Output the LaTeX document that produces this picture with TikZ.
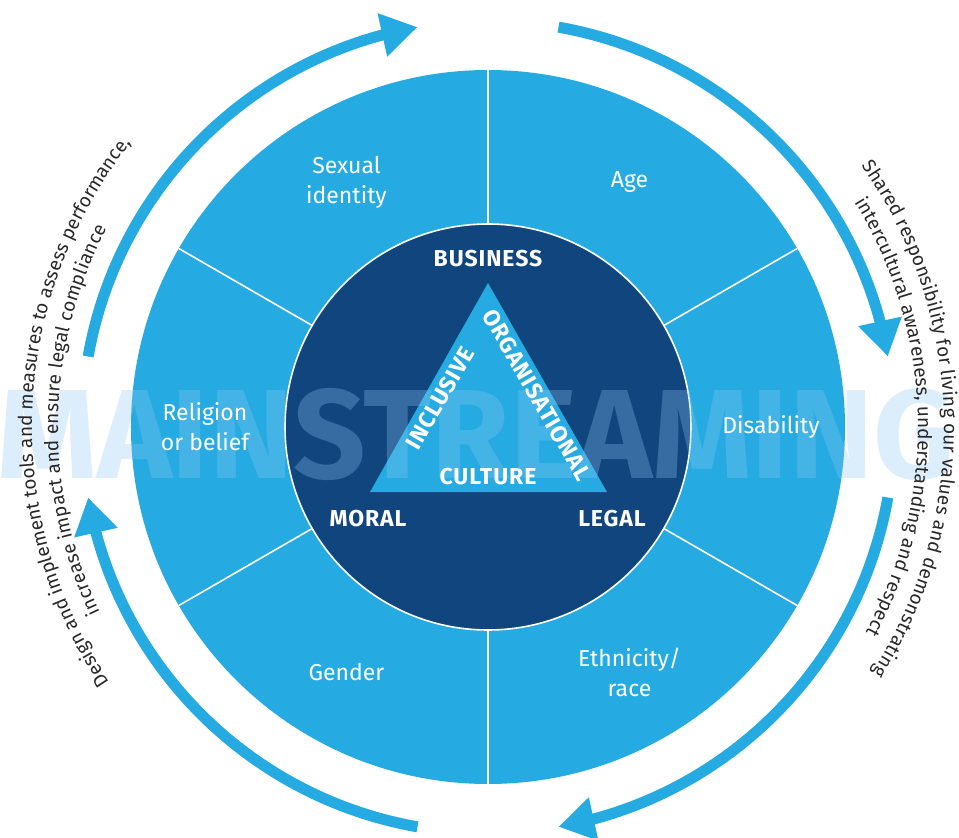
\documentclass[tikz,border=0pt]{standalone}
\usepackage{fontspec}
\setmainfont{Fira Sans}
\newfontfamily\lightfont{Fira Sans}
\usetikzlibrary{arrows.meta,bending,decorations.text}
\definecolor{ringblue}{RGB}{38,170,226}
\definecolor{navy}{RGB}{17,69,126}
\definecolor{markblue}{RGB}{140,200,242}
\definecolor{inkgray}{RGB}{40,40,40}
\newcommand{\arcfont}{\lightfont\fontsize{19}{22}\selectfont\color{inkgray}}
\tikzset{
	divider/.style={white, line width=1.6pt},
	segtext/.style={text=white, align=center, font=\lightfont\fontsize{23}{30}\selectfont},
	corner/.style={text=white, inner sep=0pt, font=\bfseries\fontsize{23}{23}\selectfont\addfontfeature{LetterSpace=4}},
	flow/.style={ringblue, line width=11pt, -{Triangle[length=36pt,width=42pt]}},
	arcline/.style={decorate, decoration={text along path, text align=fit to path, text={|\arcfont|#1}}}
}
\begin{document}
\begin{tikzpicture}[x=1pt, y=1pt]
	\useasboundingbox (-488,-411) rectangle (471,427);
	\fill[ringblue] (0,0) circle[radius=357];
	\foreach \a in {30,90,...,330}{
		\draw[divider] (0,0) -- (\a:357);
	}
	\filldraw[fill=navy, draw=white, line width=1.6pt] (0,0) circle[radius=203];
	\coordinate (apex) at (0,144);
	\coordinate (lcorner) at (-118,-65);
	\coordinate (rcorner) at (119,-65);
	\fill[ringblue] (apex) -- (lcorner) -- (rcorner) -- cycle;
	\node[anchor=base west, inner sep=0pt, text=markblue, text opacity=0.3, font=\bfseries\fontsize{127}{127}\selectfont] (mark) at (-491,-51) {MAINSTREAMING};
	\foreach \ang/\txt [count=\k] in {60/Age, 120/{Sexual\\identity}, 180/{Religion\\or belief}, 240/Gender, 300/{Ethnicity/\\race}, 0/Disability}{
		\node[segtext] (seg\k) at (\ang:283) {\txt};
	}
	\node[corner] (business) at (0,168) {BUSINESS};
	\node[corner] (moral) at (-120,-92) {MORAL};
	\node[corner] (legal) at (124,-92) {LEGAL};
	\node[corner] (culture) at (0,-50) {CULTURE};
	\node[corner, rotate=60] (inclusive) at (-48,29) {INCLUSIVE};
	\node[corner, rotate=-60] (organisational) at (49,32) {ORGANISATIONAL};
	\foreach \s in {170,80,-10,-100}{
		\draw[flow] (\s:406) arc[start angle=\s, end angle=\s-70, radius=406];
	}
	\path[arcline={Design and implement tools and measures to assess performance,}] (214:456) arc[start angle=214, end angle=141.5, radius=456];
	\path[arcline={increase impact and ensure legal compliance}] (205.5:430) arc[start angle=205.5, end angle=152.5, radius=430];
	\path[arcline={Shared responsibility for living our values and demonstrating}] (35:456) arc[start angle=35, end angle=-32.5, radius=456];
	\path[arcline={intercultural awareness, understanding and respect}] (31.5:430) arc[start angle=31.5, end angle=-28.5, radius=430];
\end{tikzpicture}
\end{document}
